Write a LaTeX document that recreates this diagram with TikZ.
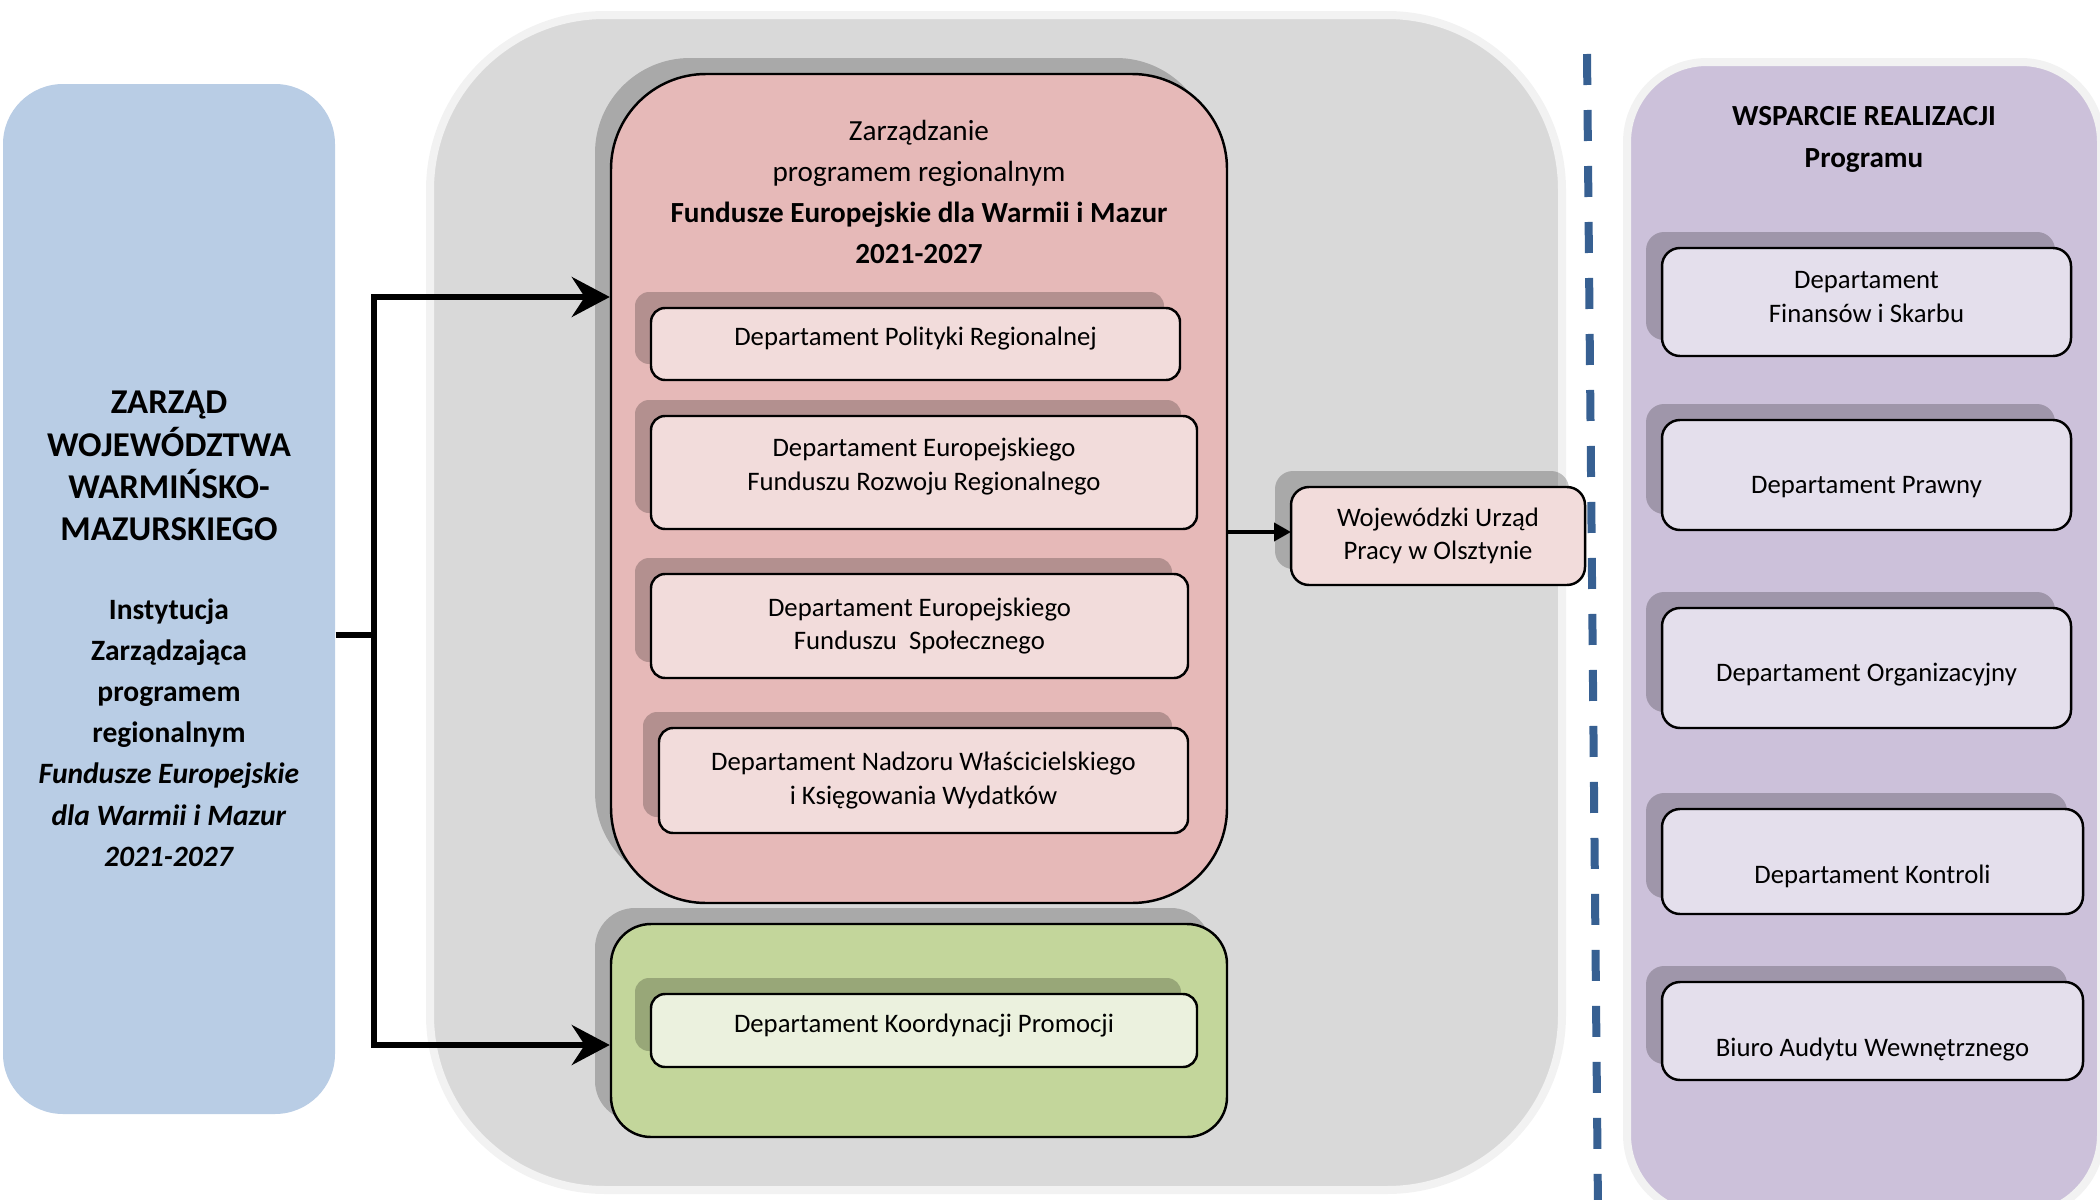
\documentclass[tikz,border=0pt]{standalone}
\usepackage{fontspec}
\setmainfont{Carlito}
\usetikzlibrary{arrows.meta,shadows}

\definecolor{zblue}{HTML}{B9CDE5}
\definecolor{zgray}{HTML}{D9D9D9}
\definecolor{zrim}{HTML}{F2F2F2}
\definecolor{zpink}{HTML}{E6B9B8}
\definecolor{zpinklt}{HTML}{F2DCDB}
\definecolor{zgreen}{HTML}{C3D69B}
\definecolor{zgreenlt}{HTML}{EBF1DE}
\definecolor{zlilac}{HTML}{CCC1DA}
\definecolor{zlilaclt}{HTML}{E4DFEC}
\definecolor{zdash}{HTML}{376092}

\begin{document}
\begin{tikzpicture}[x=0.1mm, y=-0.1mm,
    boxsize/.style 2 args={minimum width=#1mm, minimum height=#2mm},
    boxshadow/.style={general shadow={shadow xshift=-1.6mm, shadow yshift=1.6mm, fill=black, opacity=0.22}},
    dept/.style={draw, line width=0.7pt, rounded corners=1.4mm, inner sep=0pt, align=center, font=\fontsize{7.6}{9.5}\selectfont, boxshadow},
    pinkdept/.style={dept, fill=zpinklt},
    lilacdept/.style={dept, fill=zlilaclt, rounded corners=1.8mm},
    lowered/.style={text height=#1, text depth=1.7pt},
    raised/.style={text depth=#1},
    link/.style={line width=1.6pt},
    forkarrow/.style={link, -{Stealth[length=3.8mm, width=4mm, inset=1.3mm]}}]

    \useasboundingbox (0,0) rectangle (2100,1200);
    \clip (0,0) rectangle (2100,1200);

    \node[fill=zgray, draw=zrim, line width=0.8mm, rounded corners=17.5mm, boxsize={113.2}{117.5}] (core) at (996,602.5) {};
    \node[fill=zlilac, draw=zrim, line width=0.8mm, rounded corners=8mm, boxsize={47.4}{115.3}] (support) at (1864,638.5) {};
    \draw[zdash, line width=0.8mm, dash pattern=on 3.1mm off 2.5mm] (1587,54) -- (1598,1210);

    \node[fill=zblue, rounded corners=6mm, boxsize={33.2}{103}] (zarzad) at (169,599) {};
    \node[align=center, font=\fontsize{9.9}{12}\selectfont\bfseries] (zarzadtitle) at (169,466) {ZARZĄD\\WOJEWÓDZTWA\\WARMIŃSKO-\\MAZURSKIEGO};
    \node[align=center, font=\fontsize{8.4}{11.7}\selectfont\bfseries] (zarzadsub) at (169,732.5) {Instytucja\\Zarządzająca\\programem\\regionalnym\\\textit{Fundusze Europejskie}\\\textit{dla Warmii i Mazur}\\\textit{2021-2027}};

    \node[fill=zpink, draw, line width=0.7pt, rounded corners=9.5mm, boxshadow, boxsize={61.6}{82.9}] (manage) at (919,488.5) {};
    \node[align=center, font=\fontsize{8.3}{11.7}\selectfont] (managetitle) at (919,192) {Zarządzanie\\programem regionalnym\\\textbf{Fundusze Europejskie dla Warmii i Mazur}\\\textbf{2021-2027}};
    \node[pinkdept, raised=4.2pt, boxsize={52.9}{7.2}] (dpr) at (915.5,344) {Departament Polityki Regionalnej};
    \node[pinkdept, raised=4.7pt, boxsize={54.6}{11.3}] (efrr) at (924,472.5) {Departament Europejskiego\\Funduszu Rozwoju Regionalnego};
    \node[pinkdept, boxsize={53.7}{10.4}] (efs) at (919.5,626) {Departament Europejskiego\\Funduszu\ \ Społecznego};
    \node[pinkdept, boxsize={52.9}{10.5}] (nadzor) at (923.5,780.5) {Departament Nadzoru Właścicielskiego\\i Księgowania Wydatków};

    \node[fill=zgreen, draw, line width=0.7pt, rounded corners=4mm, boxshadow, boxsize={61.6}{21.3}] (promo) at (919,1030.5) {};
    \node[dept, fill=zgreenlt, raised=4.2pt, boxsize={54.6}{7.3}] (dkp) at (924,1030.5) {Departament Koordynacji Promocji};

    \node[pinkdept, rounded corners=1.8mm, boxsize={29.4}{9.8}] (wup) at (1438,536) {Wojewódzki Urząd\\Pracy w Olsztynie};

    \node[align=center, font=\fontsize{8.3}{11.9}\selectfont\bfseries] (supporttitle) at (1864,139) {WSPARCIE REALIZACJI\\Programu};
    \node[lilacdept, raised=2.8pt, boxsize={40.9}{10.8}] (dfs) at (1866.5,302) {Departament\\Finansów i Skarbu};
    \node[lilacdept, lowered=12.3pt, boxsize={40.9}{11}] (dp) at (1866.5,475) {Departament Prawny};
    \node[lilacdept, lowered=9.6pt, boxsize={40.9}{12}] (dor) at (1866.5,668) {Departament Organizacyjny};
    \node[lilacdept, lowered=14pt, boxsize={42.1}{10.5}] (dk) at (1872.5,861.5) {Departament Kontroli};
    \node[lilacdept, lowered=16.2pt, boxsize={42.1}{9.8}] (bawe) at (1872.5,1031) {Biuro Audytu Wewnętrznego};

    \coordinate (fork) at (374,635);
    \coordinate (wupin) at (1291,532);
    \draw[link] (zarzad.east |- fork) -- (fork);
    \draw[forkarrow] (fork) |- (manage.west |- 0,297);
    \draw[forkarrow] (fork) |- (promo.west |- 0,1045);
    \draw[line width=1.1pt, -{Triangle[length=1.7mm, width=1.8mm]}] (manage.east |- wupin) -- (wupin);
\end{tikzpicture}
\end{document}
